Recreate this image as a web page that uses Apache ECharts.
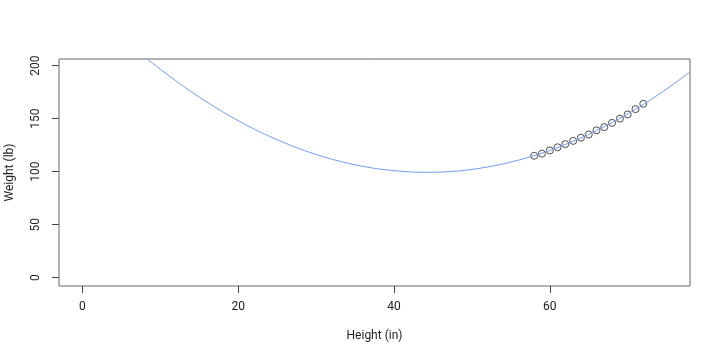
<!DOCTYPE html>
<html>
<head>
<meta charset="utf-8">
<script src="https://cdn.jsdelivr.net/npm/echarts@6/dist/echarts.min.js"></script>
<style>html,body{margin:0;padding:0;background:#fff;}#c{width:720px;height:360px;}</style>
</head>
<body>
<div id="c"></div>
<script>
// Observed data (women dataset)
var heights = [58,59,60,61,62,63,64,65,66,67,68,69,70,71,72];
var weights = [115,117,120,123,126,129,132,135,139,142,146,150,154,159,164];
// Fitted curve
var curveX = [6,8,10,12,14,16,18,20,22,24,26,28,30,32,34,36,38,40,42,44,46,48,50,52,54,56,58,60,62,64,66,68,70,72,74,76,78];
var curveY = [220.8,208.4,196.7,185.7,175.3,165.6,156.5,148.1,140.4,133.4,127.0,121.3,116.2,111.8,108.1,105.0,102.6,100.9,99.8,99.4,99.6,100.5,102.1,104.4,107.3,110.9,115.1,120.0,125.6,131.8,138.7,146.3,154.5,163.4,173.0,183.2,194.1];
var xTicks = [0,20,40,60];
var yTicks = [0,50,100,150,200];

var pts = heights.map(function(h,i){return [h,weights[i]];});
var cur = curveX.map(function(x,i){return [x,curveY[i]];});
var font = 'Roboto, "Liberation Sans", sans-serif';
var chart = echarts.init(document.getElementById('c'), null, {renderer:'canvas'});
chart.setOption({
  animation:false,
  backgroundColor:'#ffffff',
  grid:{left:59,right:30,top:59,bottom:74,show:true,borderColor:'#666',borderWidth:1,backgroundColor:'transparent',containLabel:false,outerBoundsMode:'none'},
  xAxis:{type:'value',min:-3,max:78,
    name:'Height (in)',nameLocation:'middle',nameGap:44,
    nameTextStyle:{fontFamily:font,fontSize:12,color:'#222'},
    axisLine:{show:false,onZero:false},splitLine:{show:false},
    axisTick:{show:true,inside:false,length:7,customValues:xTicks,lineStyle:{color:'#444'}},
    axisLabel:{customValues:xTicks,margin:15,fontFamily:font,fontSize:12,color:'#222'}},
  yAxis:{type:'value',min:-7.9,max:206.3,
    name:'Weight (lb)',nameLocation:'middle',nameGap:43,nameRotate:90,
    nameTextStyle:{fontFamily:font,fontSize:12,color:'#222'},
    axisLine:{show:false,onZero:false},splitLine:{show:false},
    axisTick:{show:true,inside:false,length:7,customValues:yTicks,lineStyle:{color:'#444'}},
    axisLabel:{customValues:yTicks,rotate:90,margin:17,fontFamily:font,fontSize:12,color:'#222'}},
  series:[
    {type:'scatter',data:pts,symbol:'circle',symbolSize:7,
      itemStyle:{color:'rgba(0,0,0,0)',borderColor:'#222',borderWidth:1},z:2},
    {type:'line',data:cur,showSymbol:false,smooth:0.3,clip:true,
      lineStyle:{color:'#6f9cf0',width:1},z:3}
  ]
});
</script>
</body>
</html>
